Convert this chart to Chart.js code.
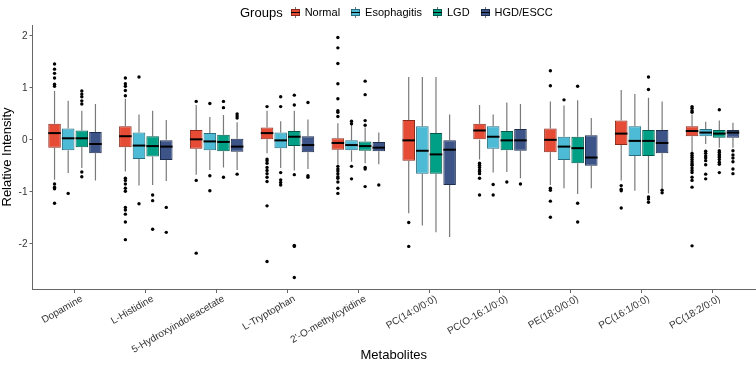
<!DOCTYPE html>
<html>
<head>
<meta charset="utf-8">
<script src="https://cdn.jsdelivr.net/npm/chart.js@4.4.1/dist/chart.umd.min.js"></script>
<style>
  html, body { margin: 0; padding: 0; background: #fff; }
  #wrap { position: relative; width: 756px; height: 369px; }
  #legend {
    position: absolute; top: 2px; left: 240px; height: 20px;
    display: flex; align-items: center;
    font-family: 'Liberation Sans', Arial, sans-serif;
    font-size: 11px; color: #000;
  }
  #legend .title { font-size: 13px; margin-right: 8px; }
  #legend .item { display: flex; align-items: center; margin-right: 11px; }
  #legend .key { position: relative; width: 9px; height: 11px; margin-right: 5px; }
  #legend .key .w { position: absolute; left: 4px; top: 0; width: 1px; height: 11px; background: #777; }
  #legend .key .b { position: absolute; left: 0; top: 2px; width: 7px; height: 5px; border: 1px solid #333; }
  #legend .key .m { position: absolute; left: 0; top: 5px; width: 9px; height: 1px; background: #000; }
</style>
</head>
<body>
<div id="wrap">
  <div id="legend"></div>
  <canvas id="chart" width="756" height="369"></canvas>
</div>
<script>
// categories and groups
const metabolites = ['Dopamine', 'L-Histidine', '5-Hydroxyindoleacetate', 'L-Tryptophan', "2'-O-methylcytidine",
  'PC(14:0/0:0)', 'PC(O-16:1/0:0)', 'PE(18:0/0:0)', 'PC(16:1/0:0)', 'PC(18:2/0:0)'];
const groups = ['Normal', 'Esophagitis', 'LGD', 'HGD/ESCC'];
const fills = ['#E64B35', '#4DBBD5', '#00A087', '#3C5488'];
const edges = ['#8a2a1c', '#2a6f80', '#005a4b', '#1f2d4d'];
const yTicks = [-2, -1, 0, 1, 2];

// box stats per metabolite: [lower whisker, q1, median, q3, upper whisker]
const normalStats = [
  [-0.77, -0.15, 0.13, 0.31, 0.94], [-0.61, -0.14, 0.07, 0.26, 0.79], [-0.67, -0.17, 0.01, 0.19, 0.67],
  [-0.26, 0.01, 0.13, 0.24, 0.56], [-0.48, -0.19, -0.06, 0.03, 0.32], [-1.41, -0.40, -0.01, 0.38, 1.21],
  [-0.38, 0.0, 0.18, 0.31, 0.67], [-0.87, -0.24, 0.0, 0.22, 0.74], [-0.78, -0.10, 0.12, 0.37, 0.96],
  [-0.24, 0.07, 0.17, 0.26, 0.49]
];
const esophagitisStats = [
  [-0.64, -0.20, 0.03, 0.22, 0.75], [-0.88, -0.37, -0.11, 0.14, 0.49], [-0.58, -0.20, -0.03, 0.13, 0.44],
  [-0.54, -0.16, -0.01, 0.14, 0.36], [-0.42, -0.20, -0.10, -0.01, 0.29], [-1.65, -0.65, -0.21, 0.26, 1.21],
  [-0.63, -0.17, 0.06, 0.26, 0.49], [-0.93, -0.39, -0.13, 0.06, 0.66], [-0.98, -0.31, -0.02, 0.26, 0.88],
  [-0.08, 0.07, 0.14, 0.21, 0.35]
];
const lgdStats = [
  [-0.54, -0.14, 0.03, 0.18, 0.56], [-0.87, -0.32, -0.12, 0.07, 0.56], [-0.53, -0.22, -0.04, 0.10, 0.48],
  [-0.59, -0.12, 0.06, 0.17, 0.56], [-0.45, -0.21, -0.12, -0.03, 0.24], [-1.78, -0.65, -0.28, 0.13, 1.21],
  [-0.62, -0.20, -0.01, 0.17, 0.72], [-1.04, -0.45, -0.16, 0.06, 0.76], [-1.03, -0.31, -0.02, 0.19, 0.81],
  [-0.15, 0.04, 0.12, 0.19, 0.37]
];
const hgdStats = [
  [-0.78, -0.26, -0.08, 0.15, 0.69], [-0.79, -0.39, -0.13, 0.0, 0.38], [-0.58, -0.23, -0.13, 0.02, 0.34],
  [-0.56, -0.24, -0.10, 0.07, 0.39], [-0.47, -0.22, -0.15, -0.04, 0.14], [-1.87, -0.87, -0.19, -0.01, 0.49],
  [-0.74, -0.21, -0.01, 0.21, 0.69], [-0.93, -0.50, -0.34, 0.09, 0.42], [-0.94, -0.26, -0.06, 0.19, 0.74],
  [-0.15, 0.04, 0.14, 0.19, 0.33]
];

// outliers per metabolite
const normalOutliers = [
  [1.46, 1.36, 1.28, 1.19, 1.07, 1.03, -0.85, -0.91, -0.94, -1.22],
  [1.19, 1.08, 1.03, 0.95, 0.85, -0.74, -0.78, -0.85, -0.93, -0.99, -1.30, -1.35, -1.43, -1.58, -1.92],
  [0.74, -0.78, -2.18],
  [0.64, -0.37, -0.40, -0.45, -0.53, -0.59, -0.65, -0.72, -0.80, -1.27, -2.34],
  [1.97, 1.77, 1.47, 1.08, 0.79, 0.56, 0.53, 0.45, -0.51, -0.56, -0.60, -0.65, -0.71, -0.74, -0.81, -0.93, -1.03],
  [-1.59, -2.05],
  [-0.45, -0.49, -0.53, -0.58, -0.61, -0.65, -0.74, -1.06],
  [1.33, 1.04, -0.93, -0.97, -1.18, -1.49],
  [-0.88, -0.95, -0.98, -1.31],
  [0.64, 0.61, 0.56, 0.53, -0.26, -0.30, -0.34, -0.38, -0.42, -0.46, -0.49, -0.54, -0.59, -0.63, -0.72, -0.78, -0.91, -2.04]
];
const esophagitisOutliers = [
  [-1.03],
  [1.21, -1.23],
  [0.70, -0.69, -0.98],
  [0.83, 0.64, -0.63, -0.77, -0.82, -0.87],
  [0.36, 0.31, -0.51, -0.75],
  [],
  [-0.86, -1.06],
  [0.77],
  [],
  [-0.22, -0.26, -0.31, -0.35, -0.40, -0.48, -0.66, -0.75]
];
const lgdOutliers = [
  [0.94, 0.88, 0.83, 0.75, 0.69, -0.62, -0.71],
  [-1.06, -1.17, -1.72],
  [0.74, 0.62, -0.72],
  [0.86, 0.67, -0.67, -2.03, -2.05, -2.65],
  [1.13, 0.87, 0.37, 0.28, -0.53, -0.56, -0.90],
  [],
  [-0.81],
  [1.03, -1.22, -1.58],
  [1.21, 0.97, -1.10, -1.14, -1.20],
  [0.58, -0.21, -0.24, -0.28, -0.31, -0.34, -0.38, -0.43, -0.47, -0.63]
];
const hgdOutliers = [
  [],
  [-1.30, -1.78],
  [0.50, 0.46, 0.42, -0.66],
  [0.72, -0.69, -0.72],
  [-0.87],
  [],
  [-0.85],
  [],
  [-0.97, -1.02],
  [-0.21, -0.29, -0.35, -0.42, -0.56, -0.65]
];

const allStats = [normalStats, esophagitisStats, lgdStats, hgdStats];
const allOutliers = [normalOutliers, esophagitisOutliers, lgdOutliers, hgdOutliers];

const FONT = "'Liberation Sans', Arial, sans-serif";

// html legend
const legendEl = document.getElementById('legend');
legendEl.innerHTML = '<span class="title">Groups</span>' + groups.map((g, i) =>
  '<span class="item"><span class="key"><span class="w"></span><span class="b" style="background:' + fills[i] +
  ';border-color:' + edges[i] + '"></span><span class="m"></span></span>' + g + '</span>').join('');

// whiskers behind the boxes, medians and outliers on top
const boxExtras = {
  id: 'boxExtras',
  beforeDatasetsDraw(chart) {
    const ctx = chart.ctx;
    const y = chart.scales.y;
    ctx.save();
    ctx.strokeStyle = '#7a7a7a';
    ctx.lineWidth = 1.2;
    allStats.forEach((stats, i) => {
      chart.getDatasetMeta(i).data.forEach((bar, j) => {
        const s = stats[j];
        ctx.beginPath();
        ctx.moveTo(bar.x, y.getPixelForValue(s[0]));
        ctx.lineTo(bar.x, y.getPixelForValue(s[1]));
        ctx.moveTo(bar.x, y.getPixelForValue(s[3]));
        ctx.lineTo(bar.x, y.getPixelForValue(s[4]));
        ctx.stroke();
      });
    });
    ctx.restore();
  },
  afterDatasetsDraw(chart) {
    const ctx = chart.ctx;
    const y = chart.scales.y;
    ctx.save();
    allStats.forEach((stats, i) => {
      chart.getDatasetMeta(i).data.forEach((bar, j) => {
        const s = stats[j];
        const half = bar.width / 2;
        ctx.strokeStyle = '#000';
        ctx.lineWidth = 2;
        ctx.beginPath();
        ctx.moveTo(bar.x - half, y.getPixelForValue(s[2]));
        ctx.lineTo(bar.x + half, y.getPixelForValue(s[2]));
        ctx.stroke();
        ctx.fillStyle = '#000';
        allOutliers[i][j].forEach(v => {
          ctx.beginPath();
          ctx.arc(bar.x, y.getPixelForValue(v), 1.7, 0, Math.PI * 2);
          ctx.fill();
        });
      });
    });
    ctx.restore();
  }
};

const ctx = document.getElementById('chart').getContext('2d');
new Chart(ctx, {
  type: 'bar',
  data: {
    datasets: groups.map((g, i) => ({
      label: g,
      data: allStats[i].map((s, j) => ({ x: j + 1, y: [s[1], s[3]] })),
      backgroundColor: fills[i],
      borderColor: edges[i],
      borderWidth: 1,
      borderSkipped: false,
      categoryPercentage: 0.77,
      barPercentage: 0.92
    }))
  },
  options: {
    responsive: false,
    animation: false,
    layout: { padding: { top: 25, right: 1, left: 0, bottom: 6 } },
    plugins: { legend: { display: false }, tooltip: { enabled: false } },
    scales: {
      x: {
        type: 'linear',
        min: 0.4,
        max: 10.6,
        offset: false,
        afterBuildTicks(scale) { scale.ticks = metabolites.map((m, i) => ({ value: i + 1 })); },
        afterFit(scale) { scale.height = 74; },
        ticks: {
          callback: v => metabolites[v - 1],
          minRotation: 30,
          maxRotation: 30,
          autoSkip: false,
          labelOffset: 7,
          font: { family: FONT, size: 10 },
          color: '#333',
          padding: 0
        },
        grid: { offset: false, drawOnChartArea: false, drawTicks: true, tickLength: 4, color: '#666' },
        border: { display: true, color: '#666', width: 1 },
        title: { display: true, text: 'Metabolites', font: { family: FONT, size: 13 }, color: '#000', padding: { top: 4, bottom: 0 } }
      },
      y: {
        min: -2.87,
        max: 2.21,
        afterBuildTicks(scale) { scale.ticks = yTicks.map(v => ({ value: v })); },
        ticks: { font: { family: FONT, size: 10 }, color: '#333', padding: 2 },
        grid: { drawOnChartArea: false, drawTicks: true, tickLength: 3, color: '#666' },
        border: { display: true, color: '#666', width: 1 },
        title: { display: true, text: 'Relative Intensity', font: { family: FONT, size: 13 }, color: '#000', padding: { top: 0, bottom: 1 } }
      }
    }
  },
  plugins: [boxExtras]
});
</script>
</body>
</html>
